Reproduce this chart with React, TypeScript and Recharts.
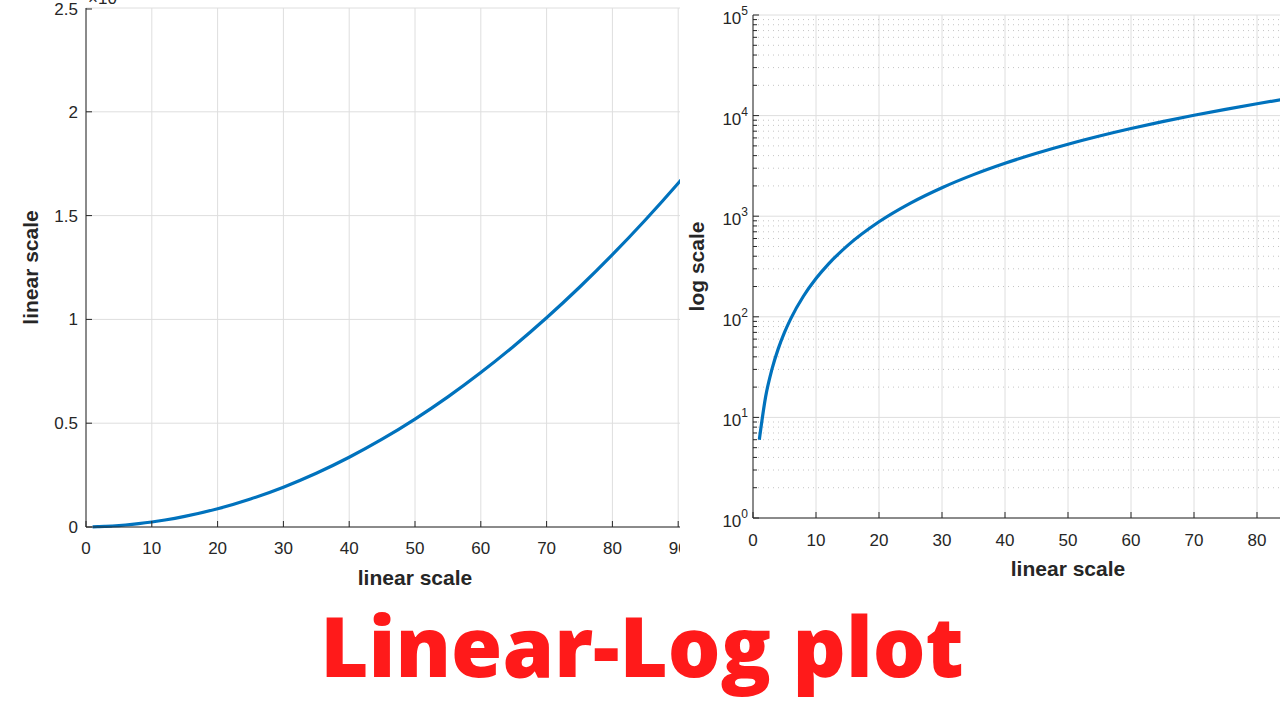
import React from "react";
import {
  LineChart,
  Line,
  XAxis,
  YAxis,
  CartesianGrid,
  ReferenceLine,
  Label,
} from "recharts";

// values (same curve on both panels)
const xValues = [1, 2, 3, 4, 5, 6, 8, 10, 12, 15, 20, 25, 30, 35, 40, 45, 50, 55, 60, 65, 70, 75, 80, 85, 90, 95, 100];
const yValues = [6, 16, 30, 48, 70, 96, 160, 240, 336, 510, 880, 1350, 1920, 2590, 3360, 4230, 5200, 6270, 7440, 8710, 10080, 11550, 13120, 14790, 16560, 18430, 20400];

const xTicks = [0, 10, 20, 30, 40, 50, 60, 70, 80, 90, 100];
const linearTicks = [0, 5000, 10000, 15000, 20000, 25000];
const linearTickLabels = ["0", "0.5", "1", "1.5", "2", "2.5"];
const decades = [1, 10, 100, 1000, 10000, 100000];
const minorSteps = [2, 3, 4, 5, 6, 7, 8, 9];

const data = xValues.map((x, i) => ({ x, y: yValues[i] }));
const minorValues = decades.slice(0, -1).flatMap((d) => minorSteps.map((m) => m * d));
const logTicks = [...decades, ...minorValues].sort((a, b) => a - b);

const INK = "#262626";
const GRID = "#dedede";
const BLUE = "#0072BD";
const FONT = "'Liberation Sans', Arial, Helvetica, sans-serif";

function BottomTick({ x, y, payload, labelDy }: any) {
  return (
    <g>
      <line x1={x} y1={y} x2={x} y2={y - 6} stroke={INK} />
      <text x={x} y={y + labelDy} textAnchor="middle" fill={INK} fontSize={17} fontFamily={FONT}>
        {payload.value}
      </text>
    </g>
  );
}

function TopTick({ x, y }: any) {
  return <line x1={x} y1={y} x2={x} y2={y + 6} stroke={INK} />;
}

function LinearTick({ x, y, payload }: any) {
  const i = linearTicks.indexOf(payload.value);
  return (
    <g>
      <line x1={x} y1={y} x2={x + 6} y2={y} stroke={INK} />
      <text x={x - 8} y={y + 6} textAnchor="end" fill={INK} fontSize={17} fontFamily={FONT}>
        {linearTickLabels[i]}
      </text>
    </g>
  );
}

function LogTick({ x, y, payload }: any) {
  const major = decades.includes(payload.value);
  const exp = Math.round(Math.log10(payload.value));
  return (
    <g>
      <line x1={x} y1={y} x2={x + (major ? 6 : 4)} y2={y} stroke={INK} />
      {major && (
        <text x={x - 5} y={y + 9} textAnchor="end" fill={INK} fontSize={17} fontFamily={FONT}>
          10
          <tspan fontSize={12} dy={-9}>
            {exp}
          </tspan>
        </text>
      )}
    </g>
  );
}

const yLabel = (text: string, dx: number) => ({ viewBox }: any) => {
  const cx = viewBox.x + dx;
  const cy = viewBox.y + viewBox.height / 2;
  return (
    <text
      x={cx}
      y={cy}
      transform={`rotate(-90, ${cx}, ${cy})`}
      textAnchor="middle"
      fill={INK}
      fontSize={21}
      fontWeight="bold"
      fontFamily={FONT}
    >
      {text}
    </text>
  );
};

const xLabel = (text: string, dy: number) => ({ viewBox }: any) => (
  <text
    x={viewBox.x + viewBox.width / 2}
    y={viewBox.y + dy}
    textAnchor="middle"
    fill={INK}
    fontSize={21}
    fontWeight="bold"
    fontFamily={FONT}
  >
    {text}
  </text>
);

function LinearPanel() {
  return (
    <div style={{ position: "absolute", left: 0, top: 0, width: 680, height: 600, overflow: "hidden" }}>
      <LineChart width={760} height={600} data={data} margin={{ top: 8, right: 16, left: 0, bottom: 0 }}>
        <CartesianGrid stroke={GRID} />
        <XAxis
          dataKey="x"
          type="number"
          domain={[0, 100]}
          ticks={xTicks}
          height={73}
          tickSize={0}
          tickMargin={0}
          stroke={INK}
          tick={(p: any) => <BottomTick {...p} labelDy={27} />}
        >
          <Label content={xLabel("linear scale", 58)} />
        </XAxis>
        <XAxis
          xAxisId="top"
          orientation="top"
          type="number"
          domain={[0, 100]}
          ticks={xTicks}
          height={0}
          tickSize={0}
          tickMargin={0}
          stroke={INK}
          tick={TopTick}
        />
        <YAxis
          type="number"
          domain={[0, 25000]}
          ticks={linearTicks}
          width={86}
          tickSize={0}
          tickMargin={0}
          stroke={INK}
          tick={LinearTick}
        >
          <Label content={yLabel("linear scale", 38)} />
        </YAxis>
        <Line type="monotone" dataKey="y" stroke={BLUE} strokeWidth={3.2} dot={false} isAnimationActive={false} />
      </LineChart>
      <div
        style={{
          position: "absolute",
          left: 88,
          top: -14,
          fontFamily: FONT,
          fontSize: 17,
          color: INK,
        }}
      >
        ×10<sup style={{ fontSize: 12 }}>4</sup>
      </div>
    </div>
  );
}

function LogPanel() {
  return (
    <div style={{ position: "absolute", left: 680, top: 0, width: 600, height: 600, overflow: "hidden" }}>
      <LineChart width={720} height={600} data={data} margin={{ top: 15, right: 17, left: 0, bottom: 0 }}>
        <CartesianGrid stroke={GRID} horizontal={false} />
        {minorValues.map((v) => (
          <ReferenceLine key={`m${v}`} y={v} stroke="#c4c4c4" strokeDasharray="1 4" />
        ))}
        {decades.map((v) => (
          <ReferenceLine key={`d${v}`} y={v} stroke={GRID} />
        ))}
        <XAxis
          dataKey="x"
          type="number"
          domain={[0, 100]}
          ticks={xTicks}
          height={82}
          tickSize={0}
          tickMargin={0}
          stroke={INK}
          tick={(p: any) => <BottomTick {...p} labelDy={28} />}
        >
          <Label content={xLabel("linear scale", 58)} />
        </XAxis>
        <XAxis
          xAxisId="top"
          orientation="top"
          type="number"
          domain={[0, 100]}
          ticks={xTicks}
          height={0}
          tickSize={0}
          tickMargin={0}
          stroke={INK}
          tick={TopTick}
        />
        <YAxis
          type="number"
          scale="log"
          domain={[1, 100000]}
          allowDataOverflow
          ticks={logTicks}
          interval={0}
          width={73}
          tickSize={0}
          tickMargin={0}
          stroke={INK}
          tick={LogTick}
        >
          <Label content={yLabel("log scale", 24)} />
        </YAxis>
        <Line type="monotone" dataKey="y" stroke={BLUE} strokeWidth={3.2} dot={false} isAnimationActive={false} />
      </LineChart>
    </div>
  );
}

export default function App() {
  return (
    <div
      style={{
        position: "fixed",
        left: 0,
        top: 0,
        width: 1280,
        height: 720,
        background: "#fff",
        overflow: "hidden",
      }}
    >
      <LinearPanel />
      <LogPanel />
      <div
        style={{
          position: "absolute",
          left: 0,
          width: 1284,
          top: 590,
          textAlign: "center",
          fontFamily: "'Open Sans', 'Noto Sans', sans-serif",
          fontWeight: 800,
          fontSize: 83,
          lineHeight: "110px",
          color: "#ff1a1a",
        }}
      >
        Linear-Log plot
      </div>
    </div>
  );
}
